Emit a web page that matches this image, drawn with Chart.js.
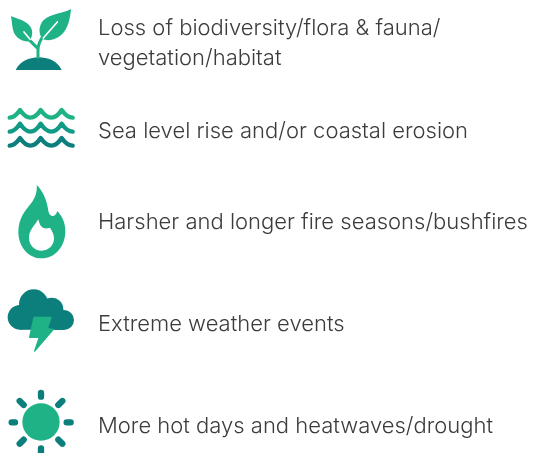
<!DOCTYPE html>
<html>
<head>
<meta charset="utf-8">
<style>
  html, body { margin: 0; padding: 0; background: #fff; }
  canvas { display: block; }
</style>
<script src="https://cdn.jsdelivr.net/npm/chart.js@4"></script>
</head>
<body>
<canvas id="grafico" width="537" height="453"></canvas>
<script>
// rows of the list, top to bottom
var categories = [
  ['Loss of biodiversity/flora & fauna/', 'vegetation/habitat'],
  'Sea level rise and/or coastal erosion',
  'Harsher and longer fire seasons/bushfires',
  'Extreme weather events',
  'More hot days and heatwaves/drought'
];
var rowValues = [43, 131, 222, 324, 426];
var iconColumn = [45, 45, 45, 45, 45];

var GREEN = '#20b287';
var MID = '#119a85';
var TEAL = '#0c7f7c';

function fillPath(c, color, d) {
  c.fillStyle = color;
  c.fill(new Path2D(d));
}
function strokePath(c, color, width, d) {
  c.strokeStyle = color;
  c.lineWidth = width;
  c.lineCap = 'round';
  c.lineJoin = 'round';
  c.stroke(new Path2D(d));
}

// icons, drawn at 3x units
function plant(c) {
  fillPath(c, TEAL, 'M47 210 C60 182 92 172 116 172 C142 172 172 182 185 210 Z');
  strokePath(c, GREEN, 9, 'M114 172 L114 150 C114 130 122 118 132 104 M114 146 L86 118');
  fillPath(c, GREEN, 'M213 27 C190 40 150 42 131 60 C116 76 114 100 128 118 C152 126 182 114 196 90 C208 70 211 48 213 27 Z');
  fillPath(c, GREEN, 'M33 48 C50 56 72 60 86 74 C99 86 101 105 88 124 C68 126 48 114 41 96 C36 82 36 64 33 48 Z');
  strokePath(c, '#fff', 5, 'M130 114 L172 66 M72 96 L90 118');
}
function waves(c) {
  strokePath(c, GREEN, 13, 'M29 68 Q44 68 60 45 Q76 68 91 68 Q107 68 122 45 Q138 68 154 68 Q170 68 185 45 Q201 68 218 68');
  strokePath(c, MID, 13, 'M29 110 Q44 110 60 86 Q76 110 91 110 Q107 110 122 86 Q138 110 154 110 Q170 110 185 86 Q201 110 218 110');
  strokePath(c, TEAL, 13, 'M29 152 Q44 152 60 129 Q76 152 91 152 Q107 152 122 129 Q138 152 154 152 Q170 152 185 129 Q201 152 218 152');
}
function fire(c) {
  fillPath(c, GREEN, 'M110 30 C128 46 142 78 145 108 C148 126 166 130 172 108 C188 125 196 145 196 168 C196 215 165 250 125 250 C85 250 55 215 55 170 C55 130 76 106 94 84 C106 68 112 50 110 30 Z');
  fillPath(c, '#fff', 'M115 133 C120 155 128 165 150 158 C158 170 162 180 162 190 C162 212 145 227 125 227 C103 227 87 210 87 188 C87 165 105 150 115 133 Z');
}
function cloud(c) {
  c.fillStyle = TEAL;
  [[60, 112, 37], [101, 72, 44], [155, 88, 35], [192, 120, 30]].forEach(function (b) {
    c.beginPath();
    c.arc(b[0], b[1], b[2], 0, Math.PI * 2);
    c.fill();
  });
  fillPath(c, TEAL, 'M60 90 L192 90 L192 150 L60 149 Z');
  var bolt = 'M102 112 L153 112 L142 146 L160 148 L104 213 L118 172 L89 172 Z';
  fillPath(c, GREEN, bolt);
  strokePath(c, GREEN, 4, bolt);
}
function sun(c) {
  strokePath(c, TEAL, 19, 'M123 30 L123 41 M123 196 L123 215 M35 118 L45 118 M200 118 L212 118 M59 54 L71 66 M187 54 L175 66 M59 182 L71 170 M187 182 L175 170');
  c.fillStyle = GREEN;
  c.beginPath();
  c.arc(123, 117, 56, 0, Math.PI * 2);
  c.fill();
}

// each icon becomes a point style image centred on its row
function iconImage(draw, rowOffset) {
  var img = document.createElement('canvas');
  img.width = 90;
  img.height = 120;
  var c = img.getContext('2d');
  c.translate(0, 60 - rowOffset);
  c.scale(1 / 3, 1 / 3);
  draw(c);
  return img;
}
var icons = [
  iconImage(plant, 43),
  iconImage(waves, 36),
  iconImage(fire, 47),
  iconImage(cloud, 44),
  iconImage(sun, 43)
];

new Chart(document.querySelector('#grafico').getContext('2d'), {
  type: 'scatter',
  data: {
    datasets: [{
      data: rowValues.map(function (v, i) { return { x: iconColumn[i], y: v }; }),
      pointStyle: icons,
      pointRadius: 40,
      clip: false
    }]
  },
  options: {
    responsive: false,
    animation: false,
    layout: { padding: 0, autoPadding: false },
    plugins: { legend: { display: false }, tooltip: { enabled: false } },
    scales: {
      x: { type: 'linear', min: 0, max: 537, display: false },
      y: {
        type: 'linear',
        min: 0,
        max: 453,
        reverse: true,
        grid: { display: false, drawTicks: false },
        border: { display: false },
        afterBuildTicks: function (scale) {
          scale.ticks = rowValues.map(function (v) { return { value: v }; });
        },
        // the mirrored labels should not take any room from the plot
        afterFit: function (scale) {
          scale.width = 0;
          scale.paddingTop = 0;
          scale.paddingBottom = 0;
        },
        ticks: {
          autoSkip: false,
          mirror: true,
          padding: 98,
          color: '#3c3c3c',
          font: { family: 'Inter', size: 22, weight: 300, lineHeight: 1.36 },
          callback: function (value, index) { return categories[index]; }
        }
      }
    }
  }
});
</script>
</body>
</html>
